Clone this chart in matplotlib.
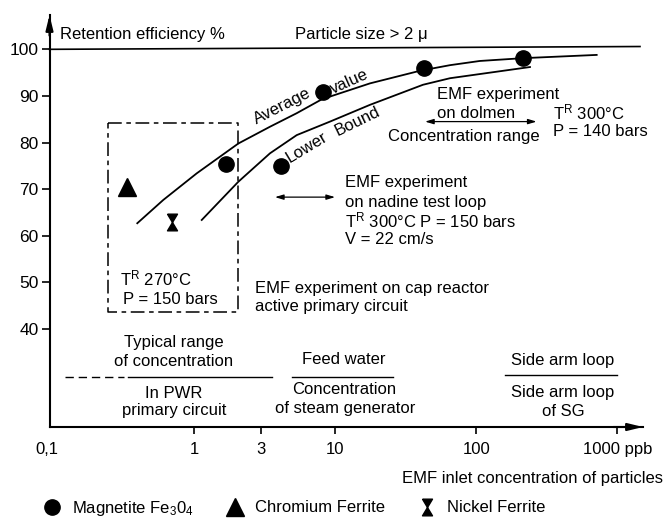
import numpy as np
import matplotlib
matplotlib.use("Agg")
import matplotlib.pyplot as plt
from matplotlib import transforms
from matplotlib.ticker import NullLocator, FixedLocator, FixedFormatter

plt.rcParams['font.family'] = ['Liberation Sans', 'DejaVu Sans']
plt.rcParams['mathtext.fontset'] = 'custom'
plt.rcParams['mathtext.rm'] = 'Liberation Sans'
plt.rcParams['mathtext.it'] = 'Liberation Sans:italic'
plt.rcParams['mathtext.bf'] = 'Liberation Sans:bold'

# ---------------- data ----------------
magnetite_x = [1.69, 4.14, 8.16, 42.9, 214]
magnetite_y = [75.3, 75.0, 90.9, 96.1, 98.1]
chromium_x = [0.334]
chromium_y = [70.4]
nickel_x = [0.696]
nickel_y = [63.0]

average_x = [0.397, 0.607, 1.047, 2.064, 3.46, 5.35, 8.08, 17.7, 40.0, 65.2, 106, 213.5, 714]
average_y = [62.7, 67.7, 73.4, 79.8, 83.4, 86.3, 89.3, 92.7, 95.4, 96.6, 97.5, 98.1, 98.8]
lower_x = [1.136, 2.064, 3.46, 5.35, 9.21, 17.7, 42.0, 65.2, 240.5]
lower_y = [63.4, 71.6, 77.7, 81.6, 84.5, 88.1, 92.4, 93.8, 96.2]

limit_x = [0.0948, 1447]
limit_y = [100.0, 100.6]

yticks = [40, 50, 60, 70, 80, 90, 100]
xticks = [1, 3, 10, 100, 1000]
xticklabels = ['1', '3', '10', '100', '1000 ppb']

# ---------------- figure ----------------
W, H = 668, 524
fig = plt.figure(figsize=(W / 100, H / 100), dpi=100)
ax = fig.add_axes([49.5 / W, 1 - 427 / H, (643 - 49.5) / W, (427 - 15) / H])
ax.set_xscale('log')
ax.set_xlim(0.0948, 1520)
ax.set_ylim(19.0, 107.36)

for s in ['top', 'right']:
    ax.spines[s].set_visible(False)
for s in ['left', 'bottom']:
    ax.spines[s].set_linewidth(1.5)

ax.xaxis.set_major_locator(FixedLocator(xticks))
ax.xaxis.set_major_formatter(FixedFormatter(xticklabels))
ax.xaxis.set_minor_locator(NullLocator())
ax.set_yticks(yticks)
ax.tick_params(axis='x', direction='out', length=5, width=1.2, pad=6, labelsize=12)
ax.tick_params(axis='y', direction='out', length=6, width=1.2, pad=2, labelsize=12.5)

# axis arrows
ax.annotate('', xy=(1.0, 0), xytext=(0.95, 0), xycoords='axes fraction',
            arrowprops=dict(arrowstyle='-|>,head_length=0.9,head_width=0.22', color='k', lw=1.5,
                            shrinkA=0, shrinkB=0))
ax.annotate('', xy=(0, 1.0), xytext=(0, 0.95), xycoords='axes fraction',
            arrowprops=dict(arrowstyle='-|>,head_length=0.9,head_width=0.22', color='k', lw=1.5,
                            shrinkA=0, shrinkB=0))

# curves
ax.plot(limit_x, limit_y, color='k', lw=1.2, clip_on=False)
ax.plot(average_x, average_y, color='k', lw=1.3)
ax.plot(lower_x, lower_y, color='k', lw=1.3)

# data points
hourglass = [(-0.6, 1), (0.6, 1), (-0.6, -1), (0.6, -1), (-0.6, 1)]
h1, = ax.plot(magnetite_x, magnetite_y, 'o', color='k', ms=11, ls='none', label='Magnetite Fe$_\\mathregular{3}$0$_\\mathregular{4}$')
h2, = ax.plot(chromium_x, chromium_y, '^', color='k', ms=13, ls='none', label='Chromium Ferrite')
h3, = ax.plot(nickel_x, nickel_y, marker=hourglass, color='k', ms=12, ls='none', label='Nickel Ferrite')

# dash-dot box (cap reactor experiment)
bx = [0.247, 2.053, 2.053, 0.247, 0.247]
by = [84.3, 84.3, 43.7, 43.7, 84.3]
ax.plot(bx, by, color='k', lw=1.1, ls=(0, (9, 3, 3, 3)))

# range arrows
ax.annotate('', xy=(3.75, 68.3), xytext=(10.0, 68.3),
            arrowprops=dict(arrowstyle='<|-|>,head_length=0.5,head_width=0.15', color='k', lw=0.9,
                            shrinkA=0, shrinkB=0))
ax.annotate('', xy=(43.4, 84.5), xytext=(268, 84.5),
            arrowprops=dict(arrowstyle='<|-|>,head_length=0.5,head_width=0.15', color='k', lw=0.9,
                            shrinkA=0, shrinkB=0))

# pixel transform (top-left origin) for annotations
px = transforms.Affine2D().scale(1 / W, -1 / H).translate(0, 1) + fig.transFigure

def t(x, y, s, ha='left', rot=0, **kw):
    fig.text(x, y, s, transform=px, ha=ha, va='center', fontsize=12, rotation=rot,
             rotation_mode='anchor' if rot else 'default', **kw)

# range lines below the chart
fig.add_artist(plt.Line2D([65, 124], [377, 377], transform=px, color='k', lw=1.0, ls=(0, (6, 3.5))))
fig.add_artist(plt.Line2D([128, 272], [377, 377], transform=px, color='k', lw=1.0))
fig.add_artist(plt.Line2D([292, 393], [377, 377], transform=px, color='k', lw=1.0))
fig.add_artist(plt.Line2D([505, 617], [375, 375], transform=px, color='k', lw=1.0))

t(60, 35, 'Retention efficiency %')
t(295, 35, 'Particle size > 2 \u03bc')
t(282, 106, 'Average', ha='center', rot=27)
t(349, 82, 'value', ha='center', rot=24)
t(307, 147, 'Lower', ha='center', rot=31)
t(357, 121, 'Bound', ha='center', rot=26)
t(437, 94, 'EMF experiment')
t(437, 113, 'on dolmen')
t(388, 136, 'Concentration range')
t(553, 112, 'T$^\\mathregular{R}$ 300\u00b0C')
t(553, 131, 'P = 140 bars')
t(345, 183, 'EMF experiment')
t(345, 202, 'on nadine test loop')
t(345, 220, 'T$^\\mathregular{R}$ 300\u00b0C P = 150 bars')
t(345, 239, 'V = 22 cm/s')
t(120, 278, 'T$^\\mathregular{R}$ 270\u00b0C')
t(123, 299, 'P = 150 bars')
t(255, 288, 'EMF experiment on cap reactor')
t(255, 306, 'active primary circuit')
t(174, 343, 'Typical range', ha='center')
t(174, 361, 'of concentration', ha='center')
t(174, 393, 'In PWR', ha='center')
t(174, 410, 'primary circuit', ha='center')
t(344, 360, 'Feed water', ha='center')
t(344, 390, 'Concentration', ha='center')
t(345, 408, 'of steam generator', ha='center')
t(563, 360, 'Side arm loop', ha='center')
t(563, 393, 'Side arm loop', ha='center')
t(563, 411, 'of SG', ha='center')
t(47, 450, '0,1', ha='center')
t(663, 478, 'EMF inlet concentration of particles', ha='right')

leg = ax.legend(handles=[h1, h2, h3], loc='center left', ncol=3, frameon=False,
                bbox_to_anchor=(43.7 / W, 1 - 508 / H), bbox_transform=fig.transFigure,
                borderpad=0, borderaxespad=0, handlelength=1.0, handletextpad=0.7,
                columnspacing=2.0, fontsize=12, numpoints=1)

fig.savefig('out.png', dpi=100)
